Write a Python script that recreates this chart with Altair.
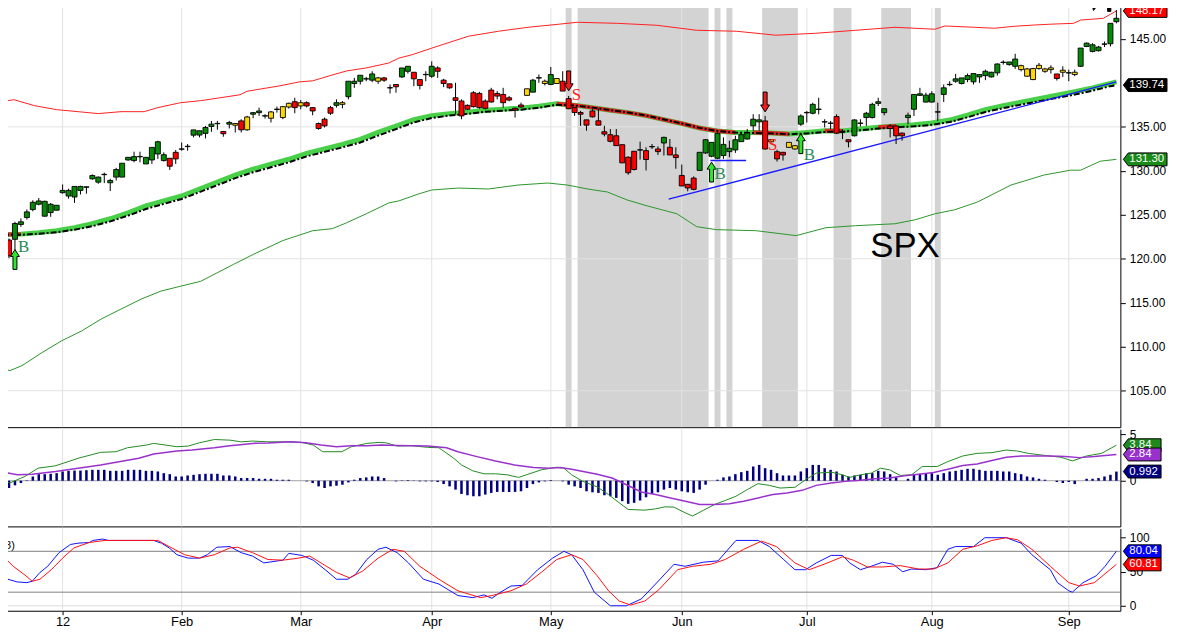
import altair as alt
import pandas as pd

# ---------------- candles (daily, index 0..187) ----------------
open_ = [122.32, 122.13, 122.21, 123.9, 124.69, 125.59, 126.2, 124.84, 125.25, 125.52,
         127.51, 127.13, 127.02, 127.77, 128.12, 129.09, 128.71, 129.56, 128.64, 129.28,
         129.28, 131.23, 131.16, 131.59, 130.78, 131.23, 131.91, 131.16, 131.42, 132.1,
         132.45, 132.75, 134.05, 134.06, 134.25, 135.04, 135.35, 134.47, 135.3, 135.18,
         135.67, 134.66, 136.43, 136.61, 136.22, 135.97, 136.97, 136.05, 137.25, 137.85,
         137.37, 137.74, 137.18, 135.37, 135.86, 137.18, 137.44, 137.55, 138.42, 139.92,
         140.18, 140.43, 140.30, 140.18, 140.56, 139.45, 139.81, 140.67, 141.31, 141.2,
         140.37, 140.92, 140.75, 141.69, 140.3, 139.88, 138.3, 137.93, 137.44, 138.87,
         138.79, 137.93, 139.17, 138.79, 138.68, 138.3, 137.1, 137.48, 138.57, 138.94,
         140.54, 139.92, 139.81, 139.92, 140.18, 138.2, 137.18, 136.62, 135.79, 136.8,
         135.68, 134.44, 134.1, 133.98, 132.97, 131.54, 132.22, 132.39, 132.29, 132.72,
         132.48, 133.16, 132.67, 131.8, 129.47, 128.46, 129.17, 130.04, 132.03, 131.65,
         131.43, 131.73, 132.18, 132.37, 133.31, 133.61, 135.11, 135.56, 135.67, 133.3,
         132.17, 132.1, 132.66, 132.48, 135.3, 136.59, 136.54, 136.97, 135.54, 135.43,
         136.16, 134.45, 133.53, 133.98, 135.39, 136.05, 136.05, 137.66, 136.61, 135.1,
         135.1, 134.28, 136.05, 136.99, 138.57, 137.81, 137.81, 136.67, 138.68, 139.79,
         140.18, 139.92, 140.37, 140.11, 140.67, 140.82, 140.67, 141.13, 142.31, 142.07,
         141.88, 141.5, 140.75, 140.37, 141.62, 141.31, 141.5, 141.01, 141.2, 141.11,
         140.94, 141.88, 144.13, 143.57, 143.65, 144.38, 144.44, 146.95]
high = [122.6, 122.3, 124.2, 124.58, 125.6, 126.65, 126.9, 126.6, 126.34, 126.1,
        128.45, 127.96, 128.22, 128.3, 128.22, 129.58, 129.35, 129.8, 129.09, 130.33,
        130.86, 131.55, 132.17, 132.17, 131.53, 132.66, 133.41, 132.1, 131.42, 132.36,
        133.22, 133.04, 134.65, 134.55, 135.1, 135.67, 135.67, 134.47, 135.67, 135.37,
        135.86, 136.24, 136.69, 137.18, 136.43, 136.8, 137.29, 137.37, 137.74, 138.3,
        138.04, 137.9, 137.18, 135.49, 136.05, 137.37, 138.12, 137.93, 140.18, 140.56,
        140.86, 140.67, 141.31, 140.67, 140.67, 139.81, 139.81, 141.69, 141.88, 141.2,
        140.37, 141.31, 142.44, 141.88, 140.45, 139.88, 140.0, 138.12, 137.55, 139.06,
        138.98, 138.12, 139.43, 139.06, 139.43, 138.5, 137.18, 137.74, 139.32, 140.45,
        140.94, 140.37, 141.8, 140.49, 141.31, 138.5, 137.18, 136.8, 135.79, 136.99,
        137.07, 135.11, 134.74, 134.74, 132.97, 131.65, 132.22, 133.31, 132.67, 133.05,
        132.78, 133.87, 133.61, 132.67, 130.71, 128.46, 129.36, 132.1, 133.61, 133.23,
        134.36, 133.8, 133.42, 133.98, 134.36, 134.74, 136.43, 136.43, 136.24, 133.6,
        132.4, 132.15, 133.23, 132.9, 136.42, 136.8, 137.74, 138.3, 135.86, 135.67,
        136.42, 134.73, 133.53, 135.85, 135.86, 136.69, 137.74, 138.3, 137.06, 135.3,
        135.15, 134.35, 136.61, 138.68, 139.43, 138.87, 139.05, 137.74, 139.81, 140.18,
        141.01, 140.56, 141.05, 141.05, 140.94, 141.5, 141.25, 142.2, 142.55, 142.37,
        143.3, 142.06, 141.7, 141.7, 142.25, 141.7, 141.99, 141.01, 141.88, 141.5,
        141.5, 143.95, 144.59, 144.51, 144.2, 144.7, 146.76, 148.27]
low = [121.4, 120.07, 121.0, 123.64, 124.46, 125.4, 126.08, 124.8, 124.77, 125.5,
       127.4, 126.83, 126.35, 127.3, 127.4, 128.98, 128.53, 128.6, 127.7, 128.9,
       129.28, 131.16, 130.97, 130.97, 130.78, 130.78, 131.35, 131.05, 130.1, 130.78,
       132.28, 132.28, 133.8, 133.8, 133.68, 134.43, 134.66, 133.87, 134.81, 134.36,
       134.36, 134.55, 135.97, 136.24, 135.94, 135.49, 136.61, 135.86, 137.06, 136.54,
       136.99, 137.2, 136.31, 134.66, 134.92, 136.35, 137.18, 137.1, 138.12, 139.43,
       139.81, 140.18, 140.07, 139.88, 140.1, 138.79, 138.87, 140.56, 141.05, 139.62,
       139.24, 140.18, 140.56, 140.56, 139.51, 139.32, 136.43, 135.86, 136.91, 137.18,
       137.06, 136.99, 137.74, 138.12, 137.18, 137.9, 136.05, 137.18, 138.57, 138.94,
       140.0, 139.7, 139.73, 139.92, 139.06, 137.0, 136.24, 135.11, 134.55, 136.05,
       135.19, 133.91, 133.23, 132.86, 130.9, 129.55, 130.04, 131.28, 130.04, 132.48,
       131.8, 131.73, 131.8, 130.23, 128.27, 127.67, 127.78, 130.04, 131.92, 131.54,
       131.35, 131.35, 131.54, 132.03, 133.31, 133.55, 134.55, 134.55, 132.4, 133.2,
       131.05, 131.16, 132.6, 132.4, 135.1, 135.48, 136.42, 136.42, 134.92, 134.74,
       134.17, 133.6, 132.66, 133.9, 135.03, 135.1, 135.95, 137.36, 136.31, 133.79,
       133.04, 133.42, 135.3, 136.23, 138.5, 137.75, 137.75, 135.67, 137.82, 139.62,
       140.0, 139.81, 140.07, 139.81, 140.0, 140.3, 140.6, 140.82, 142.07, 141.95,
       141.58, 141.3, 140.7, 140.3, 141.5, 141.13, 141.05, 140.26, 140.67, 140.18,
       140.75, 141.8, 144.06, 143.46, 143.55, 144.06, 144.13, 146.76]
close = [121.58, 120.33, 124.01, 124.2, 125.33, 126.42, 126.57, 126.53, 126.19, 126.08,
         127.77, 127.77, 128.22, 128.22, 128.18, 129.47, 129.28, 129.6, 128.9, 130.14,
         130.86, 131.53, 131.61, 131.63, 131.53, 132.66, 133.30, 131.83, 130.52, 131.35,
         132.49, 132.79, 134.65, 134.55, 134.92, 135.3, 135.39, 134.21, 135.49, 135.37,
         134.66, 136.12, 136.61, 136.8, 136.26, 136.69, 137.01, 137.29, 137.67, 137.18,
         137.74, 137.37, 136.8, 134.81, 135.11, 136.54, 137.74, 137.74, 140.18, 140.18,
         140.86, 140.47, 141.01, 140.56, 140.3, 139.41, 139.55, 141.69, 141.88, 140.45,
         139.7, 140.96, 141.88, 141.31, 139.92, 139.43, 138.0, 136.24, 136.99, 137.29,
         137.18, 137.1, 137.82, 138.49, 137.74, 138.04, 136.9, 137.25, 139.32, 140.3,
         140.58, 140.18, 140.94, 140.49, 139.06, 137.06, 136.62, 136.43, 135.19, 136.13,
         135.19, 134.17, 133.35, 132.86, 130.9, 129.78, 130.15, 132.35, 131.28, 132.76,
         132.18, 133.8, 131.8, 131.5, 128.27, 128.05, 127.89, 132.1, 133.53, 133.23,
         134.25, 133.0, 132.56, 133.53, 134.1, 134.29, 135.86, 135.79, 132.48, 133.53,
         131.35, 131.8, 133.23, 132.85, 136.23, 136.63, 137.55, 137.01, 135.58, 135.39,
         134.28, 134.41, 133.3, 135.78, 135.43, 136.54, 137.55, 137.85, 137.06, 134.8,
         133.98, 133.98, 136.31, 138.68, 138.75, 138.6, 138.75, 136.71, 139.43, 139.83,
         140.45, 140.56, 140.82, 141.05, 140.94, 141.31, 141.2, 142.14, 142.35, 142.37,
         142.7, 141.95, 141.58, 141.62, 141.99, 141.58, 141.7, 140.49, 141.43, 141.15,
         141.2, 143.95, 144.51, 144.32, 144.06, 144.42, 146.76, 147.33]
impulse = list("rrgggggggg" "gggggggggg" "ggggggggrr" "gggggggrgy" "rygggygyyr"
               "yrrrrrgygg" "gggyrrrggr" "rggrrrrrrr" "rrrrrrrryg" "gygyrrrrrr"
               "rrrrrrrrrg" "rgrrrrrggg" "ggggggggry" "rryygggggr" "rrrggggggr"
               "rrgggggygg" "gggggggggg" "gyyyyyyryg" "yggggggg")

# ---------------- overlays ----------------
ub_i = [-0.2, 1.8, 5.3, 9, 16, 19.8, 23.7, 26, 29.8, 33.2, 39.8, 41, 46.5, 49.8, 52, 54.8, 57.7, 61,
        64.8, 66.5, 68.7, 72, 78.2, 83.2, 88.2, 93.2, 96.5, 103.2, 109.8, 116.5, 123.2, 129.8, 136.5,
        143.2, 149.8, 156.5, 158.2, 163.2, 166.5, 169.8, 173.2, 176.5, 179.8, 181, 184.8, 187]
ub_v = [137.85, 138.08, 137.40, 136.95, 136.50, 136.72, 136.72, 137.18, 137.74, 137.97, 138.64, 139.04,
        139.66, 140.11, 140.22, 140.79, 141.35, 141.69, 142.25, 142.81, 143.19, 143.94, 145.30, 145.86,
        146.31, 146.65, 146.88, 146.76, 146.54, 145.97, 145.86, 145.41, 145.63, 145.97, 146.31, 146.09,
        146.46, 146.31, 146.2, 146.42, 146.57, 146.68, 146.76, 147.13, 147.33, 148.17]
lb_i = [-0.17, 1.17, 3.17, 6.5, 9.83, 13.2, 16.5, 19.8, 23.2, 26.5, 29.8, 33.2, 38.7, 42, 47, 52, 55.3,
        57.7, 61, 64.8, 66.5, 69.8, 72, 76.5, 81.5, 86.5, 91.5, 94.8, 98.2, 101.5, 104.8, 108.2, 113.2,
        116.5, 119.8, 126.5, 133.2, 138.2, 143.2, 149.8, 153.2, 156.5, 159.8, 163.7, 169.3, 174.8,
        179.3, 181, 184.3, 187]
lb_v = [107.52, 107.29, 107.85, 109.32, 110.67, 111.80, 113.16, 114.28, 115.42, 116.32, 116.88, 117.44,
        119.36, 120.49, 122.07, 123.19, 123.42, 124.09, 125.11, 126.35, 126.58, 127.37, 127.82, 128.04,
        127.93, 128.38, 128.61, 128.38, 127.93, 127.59, 126.69, 126.01, 125.11, 123.65, 123.31, 123.19,
        122.63, 123.53, 123.76, 123.98, 124.43, 125.11, 125.56, 126.46, 128.38, 129.51, 130.07, 130.07,
        131.09, 131.30]
sma_i = list(range(0, 187, 3)) + [187]
sma_v = [122.74, 122.80, 122.97, 123.19, 123.53, 123.98, 124.55, 125.22, 126.01, 126.58,
         127.14, 127.93, 128.72, 129.51, 130.18, 130.75, 131.31, 131.99, 132.50, 133.00,
         133.57, 134.36, 135.09, 135.82, 136.27, 136.50, 136.67, 136.89, 137.01, 137.12,
         137.35, 137.63, 137.46, 137.18, 136.89, 136.61, 136.27, 135.82, 135.37, 134.86,
         134.53, 134.36, 134.36, 134.30, 134.19, 134.36, 134.55, 134.53, 134.75, 134.94,
         135.09, 135.23, 135.43, 135.77, 136.33, 136.95, 137.40, 137.80, 138.19, 138.59,
         138.98, 139.43, 139.94, 140.11]
ema_v = [122.72, 122.72, 122.85, 123.02, 123.30, 123.70, 124.25, 124.90, 125.66, 126.24,
         126.80, 127.58, 128.37, 129.16, 129.83, 130.40, 130.96, 131.64, 132.15, 132.66,
         133.22, 134.00, 134.74, 135.50, 136.00, 136.28, 136.47, 136.70, 136.84, 136.95,
         137.17, 137.50, 137.42, 137.18, 136.90, 136.62, 136.28, 135.84, 135.38, 134.88,
         134.52, 134.34, 134.30, 134.25, 134.15, 134.25, 134.42, 134.45, 134.62, 134.80,
         134.95, 135.05, 135.22, 135.55, 136.08, 136.68, 137.12, 137.52, 137.90, 138.28,
         138.66, 139.10, 139.62, 139.74]
red_start = [0, 93, 126, 138, 147]
red_end = [3, 123, 132, 141, 150]
shade_start = [0, 95, 97, 120, 122, 128, 140, 148, 157]
shade_end = [0, 95, 118, 120, 122, 133, 142, 152, 157]

trend_i, trend_i2, trend_v, trend_v2 = [111.8, 118.8], [187, 124.8], [126.77, 131.17], [140.11, 131.17]

sig_idx = [2, 95, 119, 128, 134, 183.8, 185.8]
sig_kind = ["B", "S", "B", "S", "B", "F", "P"]
sig_arrow = [119.92, 140.22, 129.85, 137.82, 133.08, 149.02, 149.02]
sig_label = ["B", "S", "B", "S", "B", "", ""]
sig_label_at = [121.39, 138.56, 129.65, 132.92, 131.76, 149.0, 149.0]

# ---------------- MACD ----------------
hist = [-0.61, -0.79, -0.5, -0.25, 0.05, 0.46, 0.71, 0.71, 0.75, 0.82,
        1.0, 1.07, 1.1, 1.1, 1.14, 1.18, 1.18, 1.18, 1.07, 1.07,
        1.07, 1.18, 1.18, 1.18, 1.07, 1.07, 1.0, 0.82, 0.71, 0.46,
        0.46, 0.57, 0.64, 0.71, 0.75, 0.75, 0.75, 0.57, 0.57, 0.46,
        0.29, 0.29, 0.29, 0.21, 0.21, 0.21, 0.11, 0.11, 0.11, 0.0,
        0.0, -0.07, -0.25, -0.61, -0.79, -0.61, -0.54, -0.43, -0.18, 0.11,
        0.29, 0.36, 0.46, 0.46, 0.29, 0.0, -0.07, 0.04, 0.07, -0.03,
        -0.07, -0.07, -0.07, -0.14, -0.36, -0.61, -0.96, -1.43, -1.57, -1.68,
        -1.68, -1.5, -1.32, -1.21, -1.21, -1.21, -1.21, -1.14, -0.79, -0.36,
        -0.18, -0.07, 0.07, 0.0, -0.07, -0.43, -0.61, -0.79, -1.14, -1.25,
        -1.32, -1.57, -1.68, -1.86, -2.21, -2.5, -2.39, -2.14, -1.79, -1.43,
        -1.25, -0.96, -0.79, -0.96, -1.14, -1.25, -1.32, -0.96, -0.43, 0.0,
        0.11, 0.36, 0.46, 0.71, 0.93, 1.07, 1.54, 1.71, 1.36, 1.18,
        0.82, 0.57, 0.57, 0.57, 1.0, 1.36, 1.71, 1.71, 1.36, 1.18,
        1.0, 0.64, 0.46, 0.57, 0.64, 0.82, 0.82, 1.07, 1.0, 0.71,
        0.36, 0.0, 0.21, 0.64, 0.75, 0.82, 0.82, 0.64, 0.82, 1.0,
        1.07, 1.18, 1.29, 1.29, 1.18, 1.07, 1.07, 1.07, 1.0, 1.0,
        0.82, 0.71, 0.46, 0.36, 0.21, 0.11, 0.0, -0.14, -0.25, -0.14,
        -0.36, 0.0, 0.21, 0.21, 0.29, 0.46, 0.64, 0.99]
macd_i = [0, 1.11, 3.66, 5.89, 8.76, 11.3, 12.6, 16.4, 19.0, 20.9, 24.1, 25.3, 29.2, 31.1, 33.0, 35.5,
          38.1, 40.0, 41.9, 44.5, 48.3, 50.2, 52.1, 53.7, 56.9, 58.5, 61.1, 63.0, 64.3, 66.2, 68.7, 71.3,
          73.2, 75.7, 77.0, 78.9, 80.8, 82.7, 84.7, 86.6, 87.9, 90.4, 93.0, 94.2, 95.5, 97.4, 99.8, 101.7,
          103.5, 105.0, 107.8, 109.6, 111.2, 112.7, 114.55, 115.8, 117.6, 119.5, 121.3, 123.1, 125.0,
          126.8, 128.7, 130.5, 133.0, 134.8, 136.6, 139.1, 141.0, 142.2, 144.0, 145.8, 147.4, 148.9,
          150.7, 152.6, 154.4, 156.9, 158.7, 161.2, 163.6, 166.1, 168.5, 170.4, 172.2, 175.3, 177.7,
          179.6, 182.0, 184.5, 187.0]
macd_v = [0.11, -0.25, 0.46, 1.36, 1.61, 2.14, 2.43, 3.07, 3.14, 3.57, 3.86, 4.04, 3.68, 3.75, 4.11,
          4.46, 4.39, 4.21, 4.29, 4.21, 4.21, 4.14, 3.86, 3.14, 3.14, 3.68, 4.04, 4.14, 4.11, 3.75, 3.79,
          3.61, 3.57, 2.43, 1.71, 1.07, 0.75, 0.75, 0.64, 0.36, 0.64, 1.18, 1.46, 1.36, 0.64, -0.07,
          -0.66, -1.5, -2.39, -3.11, -3.18, -3.04, -2.82, -2.86, -3.46, -3.82, -3.21, -2.57, -2.14,
          -1.68, -0.96, -0.32, -0.5, -0.79, -0.71, 0.11, 0.82, 0.93, 0.64, 0.36, 0.64, 0.82, 1.36, 1.18,
          0.57, 0.64, 1.54, 1.54, 2.07, 2.68, 2.96, 3.04, 3.32, 3.21, 2.96, 2.71, 2.54, 2.14, 2.68, 2.96,
          3.84]
sig_i = [0, 2.4, 4.9, 8.8, 12.6, 16.4, 19.0, 22.8, 25.3, 29.2, 31.7, 35.5, 38.1, 41.9, 44.5, 48.3,
         50.9, 53.4, 56.0, 58.5, 61.1, 63.6, 66.2, 68.7, 71.3, 74.5, 76.4, 79.6, 82.7, 85.9, 89.1, 91.7,
         93.6, 95.5, 99.8, 102.3, 104.7, 107.2, 109.6, 112.1, 114.6, 117.0, 119.5, 122.0, 124.4, 126.8,
         129.3, 131.7, 134.2, 136.6, 139.1, 141.5, 144.0, 146.5, 148.9, 151.4, 153.8, 156.3, 158.7,
         161.2, 163.6, 166.1, 168.5, 171.0, 173.4, 175.9, 178.4, 180.8, 183.3, 187.0]
sig_v = [0.93, 0.64, 0.71, 1.0, 1.36, 1.71, 2.0, 2.43, 2.89, 3.21, 3.32, 3.57, 3.79, 4.04, 4.07, 4.21,
         4.11, 3.86, 3.68, 3.79, 3.79, 3.86, 3.82, 3.79, 3.75, 3.57, 3.14, 2.61, 2.14, 1.71, 1.43, 1.36,
         1.43, 1.25, 0.71, 0.29, -0.43, -1.21, -1.5, -1.86, -2.21, -2.57, -2.57, -2.5, -2.21, -1.86,
         -1.5, -1.32, -1.04, -0.5, -0.25, -0.07, 0.04, 0.21, 0.29, 0.54, 0.71, 0.89, 1.25, 1.64, 1.82,
         2.18, 2.54, 2.68, 2.68, 2.68, 2.61, 2.5, 2.61, 2.84]

# ---------------- Slow stochastic ----------------
k_i = [0, 0.8, 2.4, 4.0, 4.9, 6.2, 7.5, 9.4, 11.3, 12.6, 14.5, 15.1, 16.7, 17.7, 20.2, 25.3, 26.6, 27.9,
       29.2, 31.1, 33.0, 34.3, 35.9, 38.1, 40.0, 41.9, 43.8, 47.0, 48.0, 50.2, 52.1, 54.1, 56.0, 57.9,
       59.2, 61.1, 63.0, 64.3, 66.2, 68.1, 70.6, 73.2, 76.4, 78.9, 80.8, 82.1, 83.4, 85.3, 87.2, 89.8,
       92.3, 94.2, 95.5, 97.4, 99.3, 102.0, 104.7, 107.2, 109.6, 112.7, 114.55, 117.6, 120.1, 123.1,
       126.8, 128.7, 131.1, 133.0, 134.8, 136.6, 139.1, 141.0, 142.2, 144.0, 145.8, 147.7, 149.5, 151.1,
       152.6, 155.0, 156.9, 158.7, 160.0, 163.0, 164.9, 168.5, 171.0, 172.8, 175.9, 177.1, 179.0, 179.6,
       181.4, 183.6, 185.1, 187.0]
k_v = [46, 39, 35, 34, 36, 49, 58, 78, 90, 92, 93, 96, 98, 96, 96, 96, 92, 85, 75, 70, 70, 75, 86, 87,
       78, 73, 63, 67, 77, 74, 67, 53, 39, 39, 46, 68, 83, 86, 78, 63, 39, 32, 15, 12, 16, 11, 19, 29, 30,
       53, 70, 80, 75, 53, 20, 0, 0, 10, 32, 61, 58, 64, 66, 96, 96, 87, 68, 53, 53, 63, 74, 74, 63, 53,
       58, 64, 61, 50, 54, 53, 56, 83, 87, 87, 100, 100, 92, 75, 53, 34, 22, 20, 34, 44, 58, 80.04]
d_i = [0, 1.7, 3.7, 4.9, 6.2, 8.1, 10.0, 11.9, 14.5, 17.1, 19.0, 26.0, 27.9, 30.5, 33.0, 35.5, 38.1,
       39.4, 41.9, 44.5, 47.0, 49.6, 51.5, 53.4, 56.0, 58.2, 60.4, 63.0, 65.5, 67.4, 70.0, 73.2, 76.4,
       80.2, 82.1, 85.3, 87.9, 90.4, 93.0, 95.5, 97.4, 99.8, 101.7, 103.5, 105.4, 107.8, 110.2, 113.3,
       115.8, 118.9, 121.3, 124.4, 127.4, 129.9, 133.0, 135.4, 137.9, 141.0, 142.8, 145.2, 147.7, 150.7,
       153.8, 156.3, 158.7, 161.2, 163.6, 166.1, 168.5, 170.4, 172.8, 175.9, 179.0, 180.8, 183.3, 187.0]
d_v = [73, 58, 45, 36, 39, 53, 70, 85, 93, 96, 96, 96, 87, 75, 70, 75, 85, 86, 78, 68, 67, 70, 73, 63,
       49, 41, 51, 70, 83, 80, 58, 39, 22, 12, 15, 22, 32, 49, 68, 75, 68, 44, 22, 7, 1, 7, 24, 53, 58,
       61, 68, 83, 95, 87, 63, 53, 61, 72, 67, 57, 57, 59, 54, 54, 63, 83, 88, 96, 100, 97, 83, 58, 34,
       29, 34, 60.81]

month_idx = [10, 30, 50, 72, 92, 114, 135, 156, 179]
month_lab = ["12", "Feb", "Mar", "Apr", "May", "Jun", "Jul", "Aug", "Sep"]

main_tags = [148.17, 139.74, 131.30]
main_tag_txt = ["148.17", "139.74", "131.30"]
macd_tags = [3.84, 2.84, 0.992]
macd_tag_txt = ["3.84", "2.84", "0.992"]
sto_tags = [80.04, 60.81]
sto_tag_txt = ["80.04", "60.81"]

# ---------------- styles ----------------
W = 1127
HM, HD, HS = 427, 98, 83
FONT = "Liberation Sans"
XS = alt.Scale(domain=[-0.17, 187.67], nice=False, zero=False)
YM = alt.Scale(domain=[100.86, 149.02], nice=False, zero=False)
YD = alt.Scale(domain=[-4.94, 5.58], nice=False, zero=False)
YS = alt.Scale(domain=[-7.3, 113.7], nice=False, zero=False)
UP = "M-0.2,1L0.2,1L0.2,-0.3L0.45,-0.3L0,-1L-0.45,-0.3L-0.2,-0.3Z"
DOWN = "M-0.2,-1L0.2,-1L0.2,0.3L0.45,0.3L0,1L-0.45,0.3L-0.2,0.3Z"
FLAG = "M-1,-1L1,-1L-0.55,1Z"
POLE = "M-0.2,-1L0.2,-1L0.2,1L-0.2,1Z"
IMP_COL = {"g": "#078a07", "r": "#ff0000", "y": "#ffd700"}
SIG_SHAPE = {"B": UP, "S": DOWN, "F": FLAG, "P": POLE}
SIG_FILL = {"B": "#2ee82e", "S": "#ee1c1c", "F": "#000000", "P": "#000000"}
SIG_SIZE = {"B": 400, "S": 400, "F": 200, "P": 256}
SIG_TXT = {"B": "#2b8b5a", "S": "#ff2020", "F": "#000000", "P": "#000000"}
MAIN_TAG_COL = ["#ff0000", "#000000", "#188a18"]
MACD_TAG_COL = ["#1e8a1e", "#9932cc", "#000080"]
STO_TAG_COL = ["#0000ff", "#ff0000"]


def tag_path(w, h=13, tip=5):
    u = w / 2
    b = -1 + tip / u
    hh = h / 2 / u
    return f"M-1,0L{b:.3f},{-hh:.3f}L1,{-hh:.3f}L1,{hh:.3f}L{b:.3f},{hh:.3f}Z", w * w


xa_top = alt.Axis(values=month_idx, labels=False, ticks=False, grid=False, domain=True,
                  domainColor="black", title=None)
lab_expr = " : ".join(f"datum.value == {m} ? '{l}'" for m, l in zip(month_idx, month_lab)) + " : ''"
xa_bot = alt.Axis(values=month_idx, labelExpr=lab_expr, ticks=True, tickSize=4, tickColor="black",
                  grid=False, domainColor="black", labelFont=FONT, labelFontSize=13,
                  labelColor="black", labelPadding=1, title=None, labelFlush=False)


def yaxis(vals, fmt):
    return alt.Axis(orient="right", values=vals, format=fmt, grid=False, tickSize=5,
                    tickColor="black", domainColor="black", labelFont=FONT, labelFontSize=12,
                    labelColor="black", title=None, labelPadding=4)


ya_m = yaxis([105, 110, 115, 120, 125, 130, 135, 145], ".2f")
ya_d = yaxis([0, 5], "d")
ya_s = yaxis([0, 50, 100], "d")


def X(f, ax):
    return alt.X(f, type="quantitative", scale=XS, axis=ax)


def tags(vals, txts, cols, ys, ya, w):
    shape, size = tag_path(w)
    df = pd.DataFrame({"v": vals, "t": txts, "c": cols})
    box = alt.Chart(df).mark_point(shape=shape, filled=True, size=size, opacity=1, stroke="black",
                                   strokeWidth=1).encode(
        x=alt.value(W + 3 + w / 2), y=alt.Y("v:Q", scale=ys, axis=ya), fill=alt.Fill("c:N", scale=None))
    txt = alt.Chart(df).mark_text(align="left", baseline="middle", color="white", font=FONT,
                                  fontSize=11.5).encode(
        x=alt.value(W + 9), y=alt.Y("v:Q", scale=ys, axis=ya), text="t:N")
    return [box, txt]


def xgrid(ax):
    return alt.Chart(pd.DataFrame({"m": month_idx})).mark_rule(color="#e2e2e2").encode(x=X("m", ax))


# ---------------- main panel ----------------
cdf = pd.DataFrame({"i": range(len(close)), "o": open_, "h": high, "l": low, "c": close, "imp": impulse})
cdf["top"] = cdf[["o", "c"]].max(axis=1)
cdf["bot"] = cdf[["o", "c"]].min(axis=1)
cdf["x1"] = cdf["i"] - 0.42
cdf["x2"] = cdf["i"] + 0.42
cdf["fc"] = cdf["imp"].map(IMP_COL)

shade = pd.DataFrame({"s": [s - 0.5 for s in shade_start], "e": [e + 0.5 for e in shade_end]})
sma = pd.DataFrame({"i": sma_i, "v": sma_v, "e": ema_v})
red_parts = []
for k, (a, b) in enumerate(zip(red_start, red_end)):
    part = sma[(sma["i"] >= a) & (sma["i"] <= b)].copy()
    part["seg"] = k
    red_parts.append(part)
red = pd.concat(red_parts)
ub = pd.DataFrame({"i": ub_i, "v": ub_v})
lb = pd.DataFrame({"i": lb_i, "v": lb_v})
tl = pd.DataFrame({"i": trend_i, "i2": trend_i2, "v": trend_v, "v2": trend_v2})
sg = pd.DataFrame({"i": sig_idx, "k": sig_kind, "a": sig_arrow, "t": sig_label, "ta": sig_label_at})
sg["shp"] = sg["k"].map(SIG_SHAPE)
sg["fc"] = sg["k"].map(SIG_FILL)
sg["sz"] = sg["k"].map(SIG_SIZE)
sg["tc"] = sg["k"].map(SIG_TXT)


def Ym(f):
    return alt.Y(f, type="quantitative", scale=YM, axis=ya_m)


layers = [
    alt.Chart(shade).mark_rect(color="#d3d3d3", clip=True).encode(x=X("s", xa_top), x2="e:Q"),
    xgrid(xa_top),
    alt.Chart(pd.DataFrame({"g": [105, 120, 135]})).mark_rule(color="#e2e2e2").encode(y=Ym("g")),
    alt.Chart(lb).mark_line(color="#2a962a", strokeWidth=1, clip=True).encode(x=X("i", xa_top), y=Ym("v")),
    alt.Chart(ub).mark_line(color="#ff2020", strokeWidth=1, clip=True).encode(x=X("i", xa_top), y=Ym("v")),
    alt.Chart(sma).mark_line(color="#48d048", strokeWidth=5, clip=True).encode(x=X("i", xa_top), y=Ym("v")),
    alt.Chart(red).mark_line(color="#e02828", strokeWidth=4, clip=True).encode(
        x=X("i", xa_top), y=Ym("v"), detail="seg:N"),
    alt.Chart(sma).mark_line(color="black", strokeWidth=2, strokeDash=[6, 2, 2, 2], clip=True).encode(
        x=X("i", xa_top), y=Ym("e")),
    alt.Chart(tl).mark_rule(color="#1a1aff", strokeWidth=1.3, clip=True).encode(
        x=X("i", xa_top), x2="i2:Q", y=Ym("v"), y2="v2:Q"),
    alt.Chart(cdf).mark_rule(color="black", strokeWidth=1, clip=True).encode(
        x=X("i", xa_top), y=Ym("l"), y2="h:Q"),
    alt.Chart(cdf).mark_rect(stroke="black", strokeWidth=0.9, clip=True).encode(
        x=X("x1", xa_top), x2="x2:Q", y=Ym("bot"), y2="top:Q", fill=alt.Fill("fc:N", scale=None)),
    alt.Chart(sg).mark_point(filled=True, opacity=1, stroke="black", strokeWidth=1, clip=True).encode(
        x=X("i", xa_top), y=Ym("a"), shape=alt.Shape("shp:N", scale=None),
        fill=alt.Fill("fc:N", scale=None), size=alt.Size("sz:Q", scale=None)),
    alt.Chart(sg).mark_text(align="left", baseline="middle", dx=3, font="Liberation Serif",
                            fontSize=17, clip=True).encode(
        x=X("i", xa_top), y=Ym("ta"), text="t:N", color=alt.Color("tc:N", scale=None)),
    alt.Chart(pd.DataFrame({"i": [151.5], "v": [121.39], "t": ["SPX"]})).mark_text(
        font=FONT, fontSize=35, color="black", baseline="middle").encode(
        x=X("i", xa_top), y=Ym("v"), text="t:N"),
] + tags(main_tags, main_tag_txt, MAIN_TAG_COL, YM, ya_m, 44)
main = alt.layer(*layers).properties(width=W, height=HM)

# ---------------- MACD panel ----------------
hdf = pd.DataFrame({"i": range(len(hist)), "h": hist})
hdf["x1"] = hdf["i"] - 0.21
hdf["x2"] = hdf["i"] + 0.21


def Yd(f):
    return alt.Y(f, type="quantitative", scale=YD, axis=ya_d)


macd = alt.layer(
    xgrid(xa_top),
    alt.Chart(pd.DataFrame({"z": [0]})).mark_rule(color="#a0a0a0").encode(y=Yd("z")),
    alt.Chart(hdf).mark_rect(color="#000080").encode(x=X("x1", xa_top), x2="x2:Q", y=Yd("h"), y2=alt.datum(0)),
    alt.Chart(pd.DataFrame({"i": macd_i, "v": macd_v})).mark_line(color="#228b22", strokeWidth=1).encode(
        x=X("i", xa_top), y=Yd("v")),
    alt.Chart(pd.DataFrame({"i": sig_i, "v": sig_v})).mark_line(color="#9932cc", strokeWidth=1.5).encode(
        x=X("i", xa_top), y=Yd("v")),
    *tags(macd_tags, macd_tag_txt, MACD_TAG_COL, YD, ya_d, 38),
).properties(width=W, height=HD)


# ---------------- Stochastic panel ----------------
def Ys(f):
    return alt.Y(f, type="quantitative", scale=YS, axis=ya_s)


sto = alt.layer(
    xgrid(xa_bot),
    alt.Chart(pd.DataFrame({"z": [0]})).mark_rule(color="#dcdcdc").encode(y=Ys("z")),
    alt.Chart(pd.DataFrame({"z": [20, 80]})).mark_rule(color="#808080").encode(y=Ys("z")),
    alt.Chart(pd.DataFrame({"i": k_i, "v": k_v})).mark_line(color="#1010ff", strokeWidth=1).encode(
        x=X("i", xa_bot), y=Ys("v")),
    alt.Chart(pd.DataFrame({"i": d_i, "v": d_v})).mark_line(color="#ff1010", strokeWidth=1).encode(
        x=X("i", xa_bot), y=Ys("v")),
    alt.Chart(pd.DataFrame({"t": [",8)"]})).mark_text(align="left", baseline="middle", font=FONT,
                                                     fontSize=11, color="black").encode(
        x=alt.value(0), y=alt.value(18), text="t:N"),
    *tags(sto_tags, sto_tag_txt, STO_TAG_COL, YS, ya_s, 38),
).properties(width=W, height=HS)

chart = alt.vconcat(main, macd, sto, spacing=0).resolve_scale(
    x="independent", y="independent"
).properties(padding={"left": -8, "top": -8, "right": 0, "bottom": 0}).configure_view(stroke=None)

chart.save("out.html", embed_options={"renderer": "svg", "actions": False})
